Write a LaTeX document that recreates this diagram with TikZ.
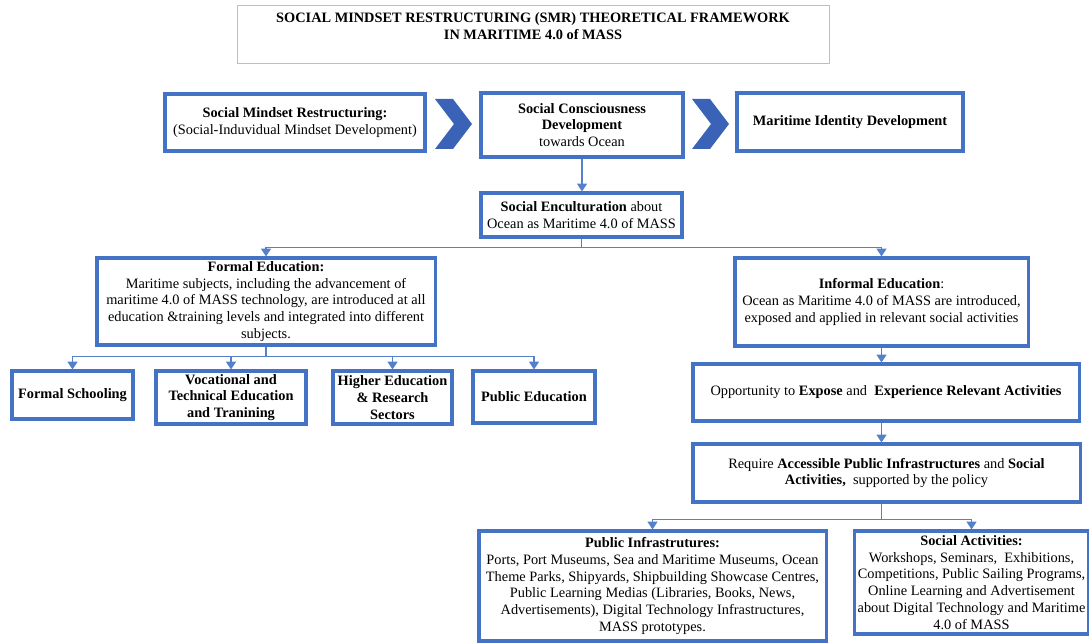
\documentclass[tikz,border=0pt]{standalone}
\usepackage{fontspec}
\setmainfont{Liberation Serif}
\usetikzlibrary{calc,arrows.meta}

\definecolor{boxblue}{RGB}{68,114,196}
\definecolor{chevblue}{RGB}{58,98,182}
\definecolor{linkblue}{RGB}{84,128,204}
\definecolor{framegray}{RGB}{190,190,190}

\tikzset{
	box/.style={draw=boxblue, line width=2.2pt, fill=white, align=center, inner sep=2pt,
		font=\fontsize{10.2}{12}\selectfont},
	link/.style={draw=linkblue, line width=1pt},
	arr/.style={link, -{Triangle[width=7pt,length=5.5pt]}},
	chevron/.style={fill=chevblue, draw=none}
}

\begin{document}
\begin{tikzpicture}[x=0.025cm, y=-0.025cm]
	\pgfmathsetmacro{\cw}{37}		%width of chevron
	\pgfmathsetmacro{\ch}{50}		%height of chevron
	\pgfmathsetmacro{\cd}{19}		%depth of chevron notch

	\useasboundingbox (0,0) rectangle (1089,643);

	%title
	\node[draw=framegray, line width=0.6pt, minimum width=14.8cm, minimum height=1.45cm] (title) at (533,34) {};
	\node[anchor=north, align=center, font=\fontsize{10.2}{11.6}\selectfont\bfseries, inner sep=0pt] (titletext) at ($(title.north)+(0,8)$)
		{SOCIAL MINDSET RESTRUCTURING (SMR) THEORETICAL FRAMEWORK\\IN MARITIME 4.0 of MASS};

	%first row
	\node[box, minimum width=6.5cm, minimum height=1.425cm] (smr) at (295,122.5)
		{\textbf{Social Mindset Restructuring:}\\(Social-Induvidual Mindset Development)};
	\node[box, minimum width=5.05cm, minimum height=1.6cm] (scd) at (582,125)
		{\textbf{Social Consciousness}\\\textbf{Development}\\towards Ocean};
	\node[box, minimum width=5.65cm, minimum height=1.45cm] (mid) at (850,122)
		{\textbf{Maritime Identity Development}};

	%chevrons
	\foreach \cx in {435,692}{
		\fill[chevron] (\cx,99) -- ++(\cw-\cd,0) -- ++(\cd,\ch/2) -- ++(-\cd,\ch/2) -- ++(\cd-\cw,0) -- ++(\cd,-\ch/2) -- cycle;
	}

	\node[box, minimum width=5.025cm, minimum height=1.1cm] (enc) at (581.5,215)
		{\textbf{Social Enculturation} about\\Ocean as Maritime 4.0 of MASS};

	%education
	\node[box, minimum width=8.45cm, minimum height=2.175cm] (formal) at (266,301.5)
		{\textbf{Formal Education:}\\Maritime subjects, including the advancement of\\maritime 4.0 of MASS technology, are introduced at all\\education \&training levels and integrated into different\\subjects.};
	\node[box, minimum width=7.325cm, minimum height=2.2cm] (informal) at (881.5,302)
		{\textbf{Informal Education}:\\Ocean as Maritime 4.0 of MASS are introduced,\\exposed and applied in relevant social activities};

	%formal branches
	\node[box, minimum width=3.025cm, minimum height=1.2cm] (school) at (72.5,395)
		{\textbf{Formal Schooling}};
	\node[box, minimum width=3.75cm, minimum height=1.325cm] (vocational) at (231,397.5)
		{\textbf{Vocational and}\\\textbf{Technical Education}\\\textbf{and Tranining}};
	\node[box, minimum width=2.975cm, minimum height=1.325cm] (higher) at (392.5,397.5)
		{\textbf{Higher Education}\\\textbf{\& Research}\\\textbf{Sectors}};
	\node[box, minimum width=3.05cm, minimum height=1.3cm] (public) at (534,397)
		{\textbf{Public Education}};

	%informal branch
	\node[box, minimum width=9.65cm, minimum height=1.425cm] (expose) at (886,392.5)
		{Opportunity to \textbf{Expose} and~ \textbf{Experience Relevant Activities}};
	\node[box, minimum width=9.675cm, minimum height=1.45cm] (require) at (886.5,473)
		{Require \textbf{Accessible Public Infrastructures} and \textbf{Social}\\\textbf{Activities,}~ supported by the policy};
	\node[box, minimum width=8.675cm, minimum height=2.75cm] (infra) at (652.5,586)
		{\textbf{Public Infrastrutures:}\\Ports, Port Museums, Sea and Maritime Museums, Ocean\\Theme Parks, Shipyards, Shipbuilding Showcase Centres,\\Public Learning Medias (Libraries, Books, News,\\Advertisements), Digital Technology Infrastructures,\\MASS prototypes.};
	\node[box, minimum width=5.775cm, minimum height=2.575cm] (social) at (971.5,582.5)
		{\textbf{Social Activities:}\\Workshops, Seminars,~ Exhibitions,\\Competitions, Public Sailing Programs,\\Online Learning and Advertisement\\about Digital Technology and Maritime\\4.0 of MASS};

	%connectors
	\coordinate (encsplit) at ($(enc.south)+(0,9)$);
	\coordinate (formsplit) at ($(formal.south)+(0,10)$);
	\coordinate (reqtop) at (informal.south |- require.north);
	\coordinate (reqbot) at (informal.south |- require.south);
	\coordinate (reqsplit) at ($(reqbot)+(0,16)$);

	\draw[arr] (scd.south) -- (scd.south |- enc.north);
	\draw[link] (enc.south) -- (encsplit);
	\draw[arr] (encsplit) -| (formal.north);
	\draw[arr] (encsplit) -| (informal.north);

	\draw[link] (formal.south) -- (formsplit);
	\foreach \n in {school,vocational,higher,public}
		\draw[arr] (formsplit) -| (\n.north);

	\draw[arr] (informal.south) -- (informal.south |- expose.north);
	\draw[arr] (informal.south |- expose.south) -- (reqtop);
	\draw[link] (reqbot) -- (reqsplit);
	\draw[arr] (reqsplit) -| (infra.north);
	\draw[arr] (reqsplit) -| (social.north);

\end{tikzpicture}
\end{document}
